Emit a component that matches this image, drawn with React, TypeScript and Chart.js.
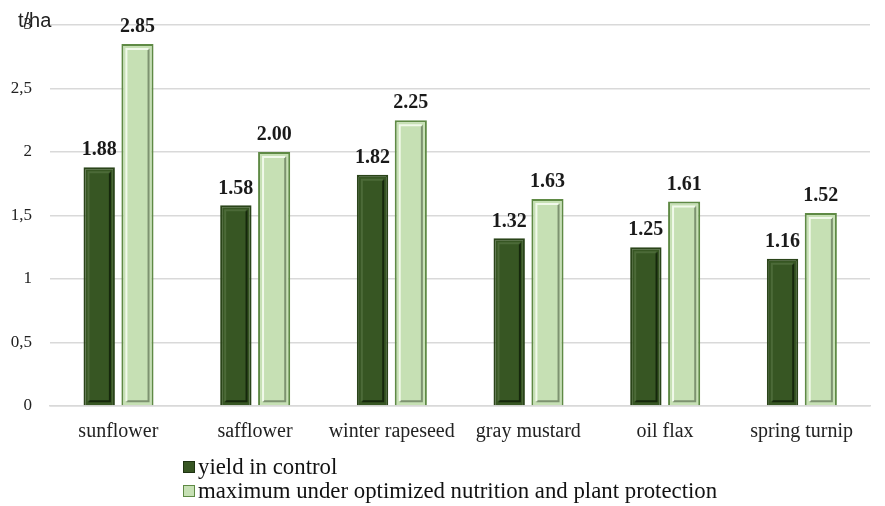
import React, { useEffect, useRef } from "react";
import { Chart, registerables } from "chart.js";

Chart.register(...registerables);

const categories = ["sunflower", "safflower", "winter rapeseed", "gray mustard", "oil flax", "spring turnip"];
const controlYield = [1.88, 1.58, 1.82, 1.32, 1.25, 1.16];
const maxYield = [2.85, 2.0, 2.25, 1.63, 1.61, 1.52];
const seriesNames = ["yield in control", "maximum under optimized nutrition and plant protection"];
const yTickLabels: Record<string, string> = { "0": "0", "0.5": "0,5", "1": "1", "1.5": "1,5", "2": "2", "2.5": "2,5", "3": "3" };
const unitLabel = "t/ha";

const SERIF = '"Liberation Serif", "Times New Roman", serif';

const barLabels = {
  id: "barLabels",
  afterDatasetsDraw(chart: any) {
    const ctx = chart.ctx;
    ctx.save();
    // bevel-ish inner lines
    chart.data.datasets.forEach((ds: any, i: number) => {
      const meta = chart.getDatasetMeta(i);
      meta.data.forEach((bar: any) => {
        const w = bar.width;
        const l = bar.x - w / 2, r = bar.x + w / 2, t = bar.y, b = bar.base;
        ctx.lineWidth = 2;
        ctx.strokeStyle = i === 0 ? "rgba(15,30,8,0.85)" : "rgba(100,120,90,0.75)";
        ctx.beginPath();
        ctx.moveTo(r - 5, t + 5);
        ctx.lineTo(r - 5, b - 4);
        ctx.lineTo(l + 5, b - 4);
        ctx.stroke();
        ctx.strokeStyle = i === 0 ? "rgba(90,120,70,0.6)" : "rgba(245,252,240,0.9)";
        ctx.beginPath();
        ctx.moveTo(l + 5, b - 4);
        ctx.lineTo(l + 5, t + 5);
        ctx.lineTo(r - 5, t + 5);
        ctx.stroke();
      });
    });
    ctx.font = `bold 20px ${SERIF}`;
    ctx.fillStyle = "#1a1a1a";
    ctx.textAlign = "center";
    ctx.textBaseline = "bottom";
    chart.data.datasets.forEach((ds: any, i: number) => {
      const meta = chart.getDatasetMeta(i);
      meta.data.forEach((bar: any, j: number) => {
        ctx.fillText(ds.data[j].toFixed(2), bar.x, bar.y - 7);
      });
    });
    // unit label
    ctx.font = `20px "Liberation Sans", Arial, sans-serif`;
    ctx.fillStyle = "#222";
    ctx.textAlign = "left";
    ctx.textBaseline = "middle";
    ctx.fillText(unitLabel, 18, 21);
    ctx.restore();
  },
};

export default function App() {
  const ref = useRef<HTMLCanvasElement>(null);
  useEffect(() => {
    document.body.style.margin = "0";
    const chart = new Chart(ref.current!, {
      type: "bar",
      data: {
        labels: categories,
        datasets: [
          {
            label: seriesNames[0],
            data: controlYield,
            backgroundColor: "#375623",
            borderColor: "#2a4419",
            borderWidth: 2,
            barPercentage: 0.82,
            categoryPercentage: 0.56,
          },
          {
            label: seriesNames[1],
            data: maxYield,
            backgroundColor: "#c6e0b4",
            borderColor: "#5f8a45",
            borderWidth: 2,
            barPercentage: 0.84,
            categoryPercentage: 0.56,
          },
        ],
      },
      options: {
        responsive: false,
        animation: false,
        layout: { padding: { top: 25, right: 15, bottom: 60, left: 0 } },
        plugins: { legend: { display: false }, tooltip: { enabled: false } },
        scales: {
          x: {
            grid: { display: false, drawTicks: false },
            border: { display: true, color: "#d9d9d9", width: 1.5 },
            ticks: { color: "#222", font: { family: SERIF, size: 20 }, padding: 14 },
            afterFit: (s: any) => { s.height = 40; s.paddingTop = 0; s.paddingBottom = 0; },
          },
          y: {
            min: 0,
            max: 3,
            ticks: {
              stepSize: 0.5,
              color: "#222",
              font: { family: SERIF, size: 17 },
              padding: 18,
              callback: (v: any) => yTickLabels[String(v)] ?? String(v),
            },
            grid: { color: "#d9d9d9", lineWidth: 1.5, drawTicks: false },
            border: { display: false },
            afterFit: (s: any) => { s.width = 50; s.paddingTop = 0; s.paddingBottom = 0; },
          },
        },
      },
      plugins: [barLabels],
    });
    return () => chart.destroy();
  }, []);

  const sq = (bg: string, bd: string): React.CSSProperties => ({
    display: "inline-block",
    width: 10,
    height: 10,
    background: bg,
    border: `1px solid ${bd}`,
    marginRight: 3,
    verticalAlign: "middle",
    position: "relative",
    top: -2,
  });

  return (
    <div style={{ position: "relative", width: 885, height: 506 }}>
      <canvas ref={ref} width={885} height={506} />
      <div style={{ position: "absolute", left: 183, top: 455, fontFamily: SERIF, fontSize: 22.8, lineHeight: "24px", color: "#111", whiteSpace: "nowrap" }}>
        <div><span style={sq("#375623", "#1e3312")} />{seriesNames[0]}</div>
        <div><span style={sq("#c6e0b4", "#5f8a45")} />{seriesNames[1]}</div>
      </div>
    </div>
  );
}
